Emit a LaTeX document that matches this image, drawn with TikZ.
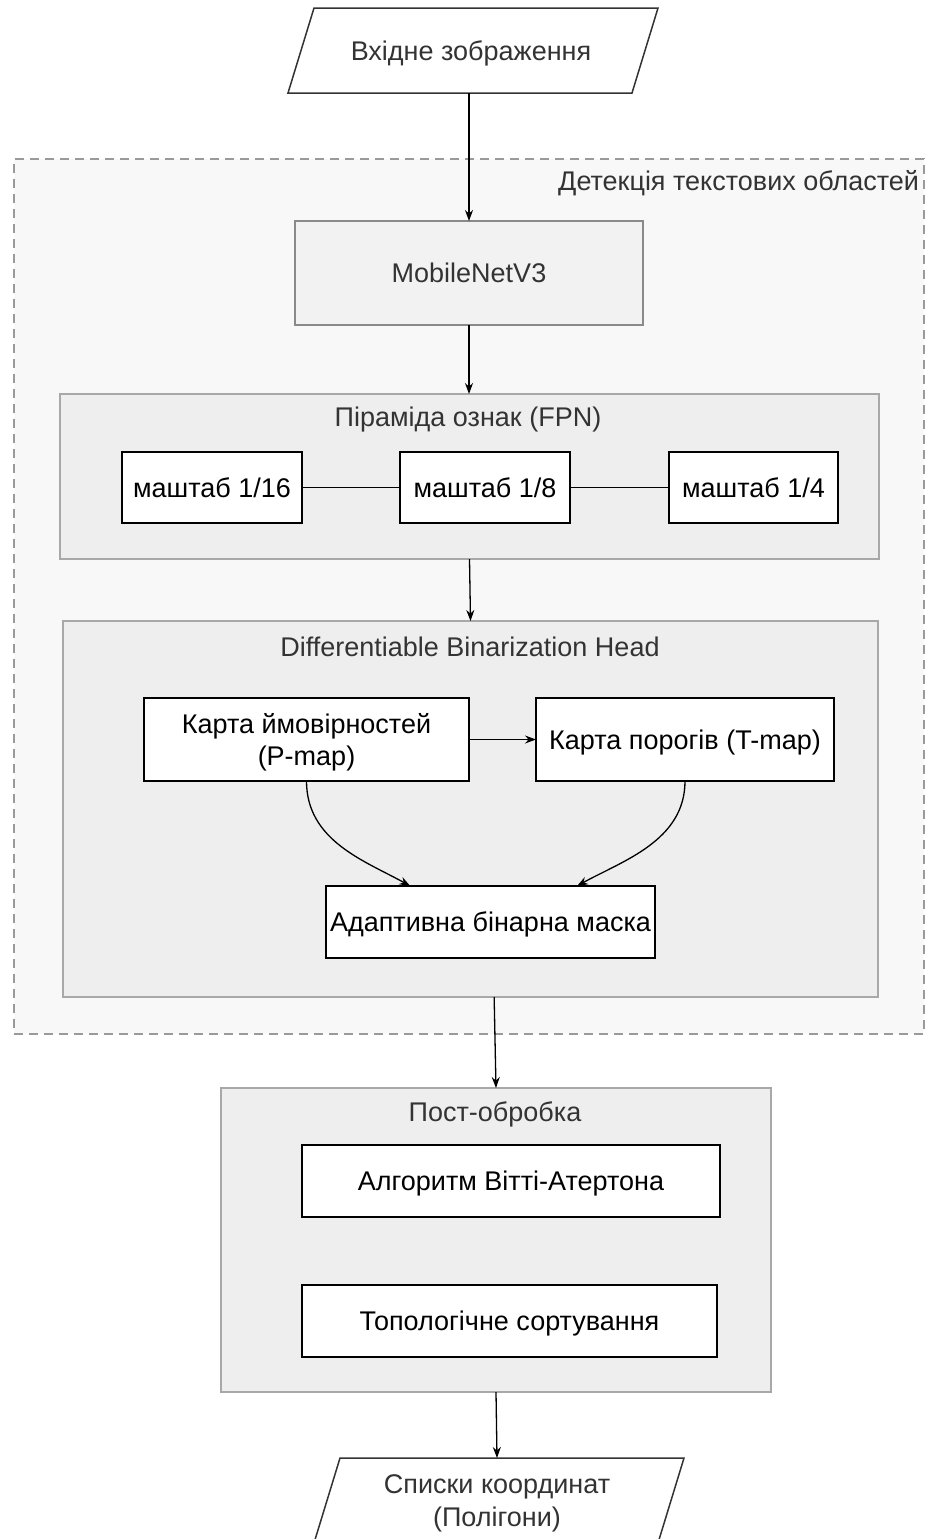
\documentclass[tikz,border=0pt]{standalone}
\usepackage{fontspec}
\setmainfont{Liberation Sans}
\usetikzlibrary{arrows.meta,calc}
\definecolor{edgegray}{HTML}{333333}
\definecolor{txtgray}{HTML}{333333}
\definecolor{groupfill}{HTML}{EEEEEE}
\definecolor{groupline}{HTML}{A8A8A8}
\definecolor{mobfill}{HTML}{F2F2F2}
\definecolor{mobline}{HTML}{8A8A8A}
\definecolor{dashline}{HTML}{9A9A9A}
\definecolor{areafill}{HTML}{F8F8F8}
\tikzset{
  x=1pt, y=-1pt,
  every node/.style={font=\fontsize{27}{32.5}\selectfont, inner sep=0pt, outer sep=0pt},
  area/.style={draw=dashline, fill=areafill, line width=2pt, dash pattern=on 9pt off 6pt},
  group/.style={draw=groupline, fill=groupfill, line width=2pt},
  backbone/.style={draw=mobline, fill=mobfill, line width=2pt, text=txtgray, text depth=0pt},
  stepbox/.style={draw=black, fill=white, line width=2pt, align=center, text depth=0pt},
  iobox/.style={align=center, text=txtgray, text depth=0pt},
  ioline/.style={draw=edgegray, line width=1.5pt},
  title/.style={text=txtgray},
  arr/.style={draw=black, line width=1.3pt, -{Stealth[length=11pt,width=8pt]}},
  link/.style={draw=black, line width=1.3pt},
}
\begin{document}
\begin{tikzpicture}
\clip (0,0) rectangle (928,1539);
\fill[white] (0,0) rectangle (928,1539);

% input parallelogram
\node[iobox, minimum width=344, minimum height=85] (in) at (471,50.5) {Вхідне зображення};
\draw[ioline] ($(in.north west)+(15,0)$) -- ($(in.north east)+(15,0)$)
  -- ($(in.south east)+(-11,0)$) -- ($(in.south west)+(-11,0)$) -- cycle;

% text detection area
\node[area, minimum width=910, minimum height=875] (det) at (469,596.5) {};
\node[title, anchor=north east] (detlbl) at (919,170) {Детекція текстових областей};

% backbone
\node[backbone, minimum width=348, minimum height=104] (mob) at (469,273) {MobileNetV3};

% feature pyramid
\node[group, minimum width=819, minimum height=165] (fpn) at (469.5,476.5) {};
\node[title] (fpnlbl) at (468,420) {Піраміда ознак (FPN)};
\node[stepbox, minimum width=180, minimum height=71] (s16) at (212,487.5) {маштаб 1/16};
\node[stepbox, minimum width=170, minimum height=71] (s8) at (485,487.5) {маштаб 1/8};
\node[stepbox, minimum width=169, minimum height=71] (s4) at (753.5,487.5) {маштаб 1/4};

% binarization head
\node[group, minimum width=815, minimum height=376] (db) at (470.5,809) {};
\node[title] (dblbl) at (470,647) {Differentiable Binarization Head};
\node[stepbox, minimum width=325, minimum height=83] (pm) at (306.5,739.5) {Карта ймовірностей\\(P-map)};
\node[stepbox, minimum width=298, minimum height=83] (tm) at (685,739.5) {Карта порогів (T-map)};
\node[stepbox, minimum width=329, minimum height=72] (mask) at (490.5,922) {Адаптивна бінарна маска};

% post-processing
\node[group, minimum width=550, minimum height=304] (post) at (496,1240) {};
\node[title] (postlbl) at (495,1114) {Пост-обробка};
\node[stepbox, minimum width=418, minimum height=72] (vit) at (511,1181) {Алгоритм Вітті-Атертона};
\node[stepbox, minimum width=415, minimum height=72] (topo) at (509.5,1321) {Топологічне сортування};

% output parallelogram
\node[iobox, minimum width=344, minimum height=85] (out) at (497,1500.5) {Списки координат\\(Полігони)};
\draw[ioline] ($(out.north west)+(15,0)$) -- ($(out.north east)+(15,0)$)
  -- ($(out.south east)+(-11,0)$) -- ($(out.south west)+(-11,0)$) -- cycle;

% connectors
\draw[arr] (mob.north |- in.south) -- (mob.north);
\draw[arr] (mob.south) -- (mob.south |- fpn.north);
\draw[link] (s16) -- (s8);
\draw[link] (s8) -- (s4);
\draw[arr] (fpn.south) -- (db.north);
\draw[arr] (pm) -- (tm);
\coordinate (mkl) at ($(mask.north west)!0.256!(mask.north east)$);
\coordinate (mkr) at ($(mask.north west)!0.763!(mask.north east)$);
\draw[arr] (pm.south) .. controls ($(pm.south)+(0,60)$) and ($(mkl)+(-45,-25)$) .. (mkl);
\draw[arr] (tm.south) .. controls ($(tm.south)+(0,60)$) and ($(mkr)+(45,-25)$) .. (mkr);
\coordinate (dbout) at ($(db.south west)!0.529!(db.south east)$);
\draw[arr] (dbout) -- (post.north);
\draw[arr] (post.south) -- (out.north);
\end{tikzpicture}
\end{document}
